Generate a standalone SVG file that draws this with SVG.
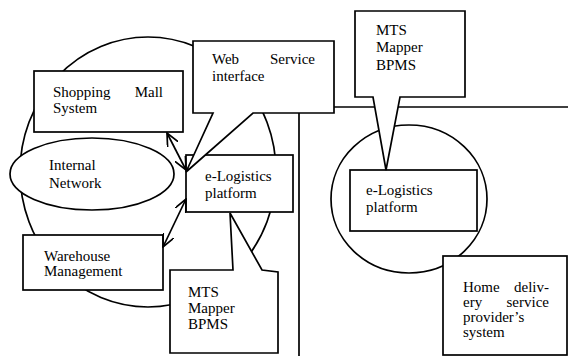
<svg xmlns="http://www.w3.org/2000/svg" width="568" height="356" viewBox="0 0 568 356">
  <defs>
    <style>
      .ln { fill: none; stroke: #000; stroke-width: 1.7; }
      .box { fill: #fff; stroke: #000; stroke-width: 1.7; stroke-linejoin: miter; }
      .end { text-anchor: end; }
    </style>
    <marker id="arrow" viewBox="0 0 14 12" refX="13" refY="6" markerWidth="14" markerHeight="12" markerUnits="userSpaceOnUse" orient="auto-start-reverse">
      <path d="M0,0 L13,6 L0,12" fill="none" stroke="#000" stroke-width="1.7"/>
    </marker>
  </defs>
  <rect width="568" height="356" fill="#fff"/>

  <!-- domain boundaries and separators -->
  <g id="boundaries">
    <ellipse class="ln" cx="148" cy="172" rx="128" ry="135"/>
    <ellipse class="ln" cx="409" cy="199" rx="78" ry="74"/>
    <line class="ln" x1="334" y1="107" x2="568" y2="107"/>
    <line class="ln" x1="299" y1="113" x2="299" y2="356"/>
  </g>

  <g font-family="'Liberation Serif', 'DejaVu Serif', serif" font-size="15" fill="#000">
    <g id="internal-network">
      <ellipse class="box" cx="92" cy="174" rx="82" ry="36"/>
      <text x="49" y="170">Internal</text>
      <text x="49" y="188">Network</text>
    </g>

    <g id="shopping-mall">
      <rect class="box" x="34" y="71" width="149" height="61"/>
      <text x="53" y="97">Shopping</text>
      <text class="end" x="163" y="97">Mall</text>
      <text x="53" y="113">System</text>
    </g>

    <g id="warehouse">
      <rect class="box" x="23" y="235" width="140" height="55"/>
      <text x="44" y="261">Warehouse</text>
      <text x="44" y="276">Management</text>
    </g>

    <g id="elogistics-left">
      <rect class="box" x="186" y="155" width="107" height="57"/>
      <text x="205" y="181">e-Logistics</text>
      <text x="205" y="198">platform</text>
    </g>

    <g id="web-service">
      <path class="box" d="M193,41 L334,41 L334,113 L253,113 L186,172 L213,113 L193,113 Z"/>
      <text x="212" y="64">Web</text>
      <text class="end" x="315" y="64">Service</text>
      <text x="212" y="81">interface</text>
    </g>

    <g id="mts-left">
      <path class="box" d="M170,353 L170,270 L233,270 L230,213 L262,270 L278,272 L278,353 Z"/>
      <text x="188" y="297">MTS</text>
      <text x="188" y="313">Mapper</text>
      <text x="188" y="329">BPMS</text>
    </g>

    <g id="elogistics-right">
      <rect class="box" x="350" y="170" width="127" height="61"/>
      <text x="366" y="195">e-Logistics</text>
      <text x="366" y="212">platform</text>
    </g>

    <g id="mts-right">
      <path class="box" d="M355,11 L465,11 L465,97 L400,97 L386,170 L373,97 L355,97 Z"/>
      <text x="376" y="35">MTS</text>
      <text x="376" y="52">Mapper</text>
      <text x="376" y="70">BPMS</text>
    </g>

    <g id="home-delivery">
      <rect class="box" x="443" y="256" width="124" height="99"/>
      <text x="463" y="292">Home</text>
      <text class="end" x="549" y="292">deliv-</text>
      <text x="463" y="307">ery</text>
      <text class="end" x="549" y="307">service</text>
      <text x="463" y="322">provider’s</text>
      <text x="463" y="337">system</text>
    </g>
  </g>

  <!-- connectors -->
  <g id="connectors">
    <line class="ln" x1="186" y1="170" x2="167" y2="133" marker-start="url(#arrow)" marker-end="url(#arrow)"/>
    <line class="ln" x1="186" y1="199" x2="163" y2="247" marker-start="url(#arrow)" marker-end="url(#arrow)"/>
  </g>
</svg>
